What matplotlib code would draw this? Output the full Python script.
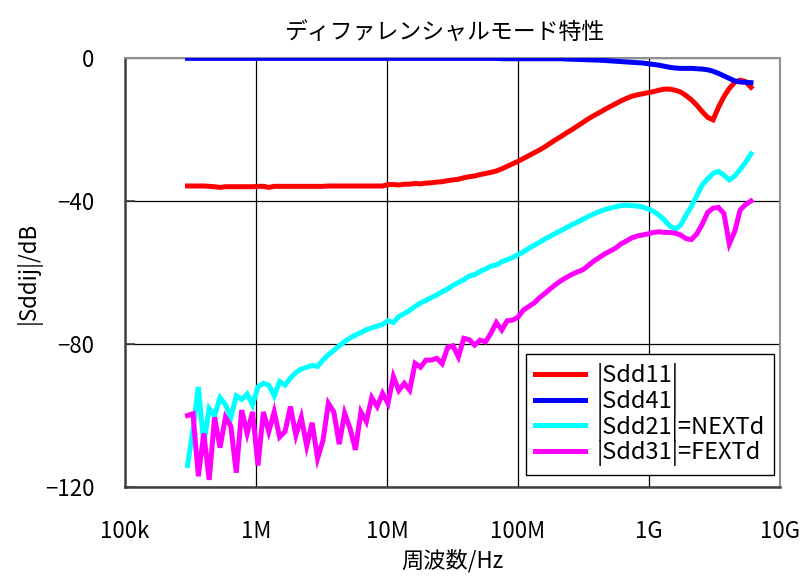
import matplotlib
matplotlib.use("Agg")
import matplotlib.pyplot as plt
import numpy as np

plt.rcParams["font.family"] = ["Noto Sans CJK JP", "DejaVu Sans"]

# sweep: 105 log-spaced points, 300 kHz .. 6 GHz (VNA sweep)
freq = np.geomspace(3e5, 6e9, 105)

sdd11 = [
    -35.8, -35.8, -35.8, -35.8, -35.9, -36.0, -36.2, -36.0, -36.0, -36.0,
    -36.0, -36.0, -36.0, -35.9, -35.9, -36.2, -35.9, -35.9, -35.9, -35.9,
    -35.9, -35.9, -35.9, -35.9, -35.9, -35.9, -35.8, -35.8, -35.8, -35.8,
    -35.8, -35.8, -35.8, -35.8, -35.8, -35.8, -35.8, -35.4, -35.4, -35.5,
    -35.3, -35.3, -35.1, -35.2, -35.0, -34.9, -34.7, -34.6, -34.3, -34.1,
    -33.9, -33.5, -33.2, -33.0, -32.6, -32.3, -32.0, -31.6, -31.0, -30.3,
    -29.6, -28.9, -28.1, -27.3, -26.5, -25.7, -24.8, -23.8, -22.8, -21.9,
    -20.9, -20.0, -19.0, -18.0, -17.0, -16.1, -15.3, -14.4, -13.6, -12.8,
    -12.0, -11.3, -10.7, -10.3, -10.0, -9.7, -9.4, -9.0, -8.7, -8.7,
    -9.0, -9.5, -10.5, -11.7, -13.2, -15.0, -16.6, -17.3, -13.8, -10.8,
    -8.5, -6.8, -6.2, -6.6, -8.2,
]

sdd41 = [-0.1] * 58 + [
    -0.2, -0.2, -0.2, -0.2, -0.2, -0.2, -0.2, -0.2, -0.2, -0.2,
    -0.2, -0.2, -0.3, -0.35, -0.4, -0.45, -0.5, -0.55, -0.6, -0.7,
    -0.8, -0.9, -1.0, -1.1, -1.2, -1.3, -1.4, -1.6, -1.8, -2.0,
    -2.3, -2.6, -2.8, -2.9, -2.9, -2.9, -3.0, -3.1, -3.3, -3.7,
    -4.3, -5.0, -5.7, -6.4, -6.7, -6.8, -6.9,
]

sdd21 = [
    -114.0, -104.0, -92.0, -108.0, -98.0, -100.0, -95.0, -97.0, -100.5, -94.5,
    -95.5, -94.0, -97.0, -92.0, -91.0, -91.5, -94.5, -90.5, -91.5, -89.5,
    -88.0, -87.0, -86.5, -86.0, -86.3, -84.5, -83.0, -81.8, -80.5, -79.3,
    -78.3, -77.5, -76.8, -76.0, -75.5, -75.0, -74.5, -73.5, -74.0, -72.3,
    -71.5, -70.6, -69.5, -68.5, -67.8, -67.0, -66.3, -65.4, -64.6, -63.6,
    -62.8, -62.0, -61.0, -60.6, -59.7, -59.0, -58.2, -57.9, -57.0, -56.4,
    -55.8, -55.0, -54.2, -53.2, -52.4, -51.5, -50.6, -49.8, -49.0, -48.2,
    -47.4, -46.6, -45.9, -45.1, -44.3, -43.6, -43.0, -42.4, -42.0, -41.6,
    -41.3, -41.2, -41.3, -41.4, -41.7, -42.2, -42.9, -43.9, -45.3, -47.0,
    -47.8, -46.8, -44.0, -41.5, -38.5, -35.5, -33.8, -32.3, -31.7, -32.8,
    -34.1, -33.0, -31.2, -29.2, -26.8,
]

sdd31 = [
    -100.0, -99.5, -117.0, -105.0, -118.0, -100.5, -109.0, -100.5, -103.0, -116.0,
    -98.5, -105.0, -99.0, -114.0, -99.0, -104.5, -99.0, -106.0, -104.5, -97.5,
    -105.5, -100.5, -108.5, -102.0, -112.0, -107.0, -96.6, -99.0, -108.0, -99.4,
    -103.6, -109.6, -99.0, -101.7, -95.0, -97.5, -93.8, -96.6, -89.1, -93.0,
    -91.0, -92.9, -85.4, -86.5, -84.5, -84.5, -84.0, -85.5, -81.0, -80.5,
    -83.6, -78.4, -78.8, -80.3, -78.9, -79.4, -77.0, -74.0, -76.1, -73.5,
    -73.3, -72.5, -70.5, -69.5, -68.5, -67.0, -65.8, -64.5, -63.3, -62.2,
    -61.3, -60.5, -59.8, -59.2, -58.0, -56.8, -55.8, -54.8, -54.0, -53.2,
    -52.0, -51.2, -50.3, -49.8, -49.5, -49.2, -48.8, -48.6, -48.8, -48.8,
    -49.0, -49.5, -50.5, -50.8, -49.2, -46.5, -43.2, -42.0, -41.8, -43.5,
    -52.0, -48.5, -42.5, -41.0, -40.0,
]

series = [
    (sdd11, "#ff0000", "|Sdd11|"),
    (sdd41, "#0000ff", "|Sdd41|"),
    (sdd21, "#00ffff", "|Sdd21|=NEXTd"),
    (sdd31, "#ff00ff", "|Sdd31|=FEXTd"),
]

xtick_vals = [1e5, 1e6, 1e7, 1e8, 1e9, 1e10]
xtick_labels = ["100k", "1M", "10M", "100M", "1G", "10G"]
ytick_vals = [0, -40, -80, -120]

fig = plt.figure(figsize=(8.05, 5.76), dpi=100)
ax = fig.add_axes([0.1553, 0.1545, 0.8137, 0.7448])

for vals, color, label in series:
    ax.plot(freq, vals, color=color, lw=3.6, label=label,
            solid_joinstyle="miter", zorder=3)

ax.set_xscale("log")
ax.set_xlim(1e5, 1e10)
ax.set_ylim(-120, 0)
ax.set_xticks(xtick_vals)
ax.set_xticklabels(xtick_labels)
ax.xaxis.set_minor_locator(matplotlib.ticker.NullLocator())
ax.set_yticks(ytick_vals)
ax.set_yticklabels(["0", "\u221240", "\u221280", "\u2212120"])
ax.tick_params(axis="y", direction="in", length=7, width=1.2,
               color="#404040", labelsize=16, pad=22)
ax.tick_params(axis="x", length=0, labelsize=16, pad=24)
ax.grid(True, color="black", lw=0.9, zorder=1)

for side in ("left", "bottom"):
    ax.spines[side].set_color("#404040")
    ax.spines[side].set_linewidth(1.8)
for side in ("top", "right"):
    ax.spines[side].set_color("#909090")
    ax.spines[side].set_linewidth(1.5)

ax.set_title("ディファレンシャルモード特性", fontsize=16.5, pad=14, x=0.487)
ax.set_xlabel("周波数/Hz", fontsize=16, labelpad=4)
ax.set_ylabel("|Sddij|/dB", fontsize=16, labelpad=2)

leg = ax.legend(loc="upper left", bbox_to_anchor=(0.612, 0.31),
                fontsize=17, frameon=True, fancybox=False, framealpha=1,
                edgecolor="black", handlelength=2.1, handletextpad=0.5,
                labelspacing=-0.02, borderpad=0.4, borderaxespad=0)
leg.get_frame().set_linewidth(1.0)
leg.set_zorder(5)

fig.savefig("out.png", dpi=100)
